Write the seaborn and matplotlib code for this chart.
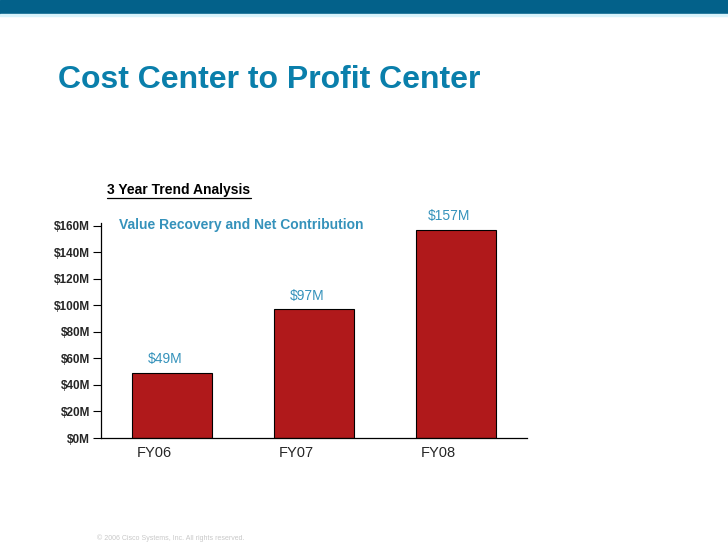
import pandas as pd
import matplotlib
matplotlib.use('Agg')
import matplotlib.pyplot as plt
import matplotlib.transforms as mtransforms
import seaborn as sns

years = ['FY06', 'FY07', 'FY08']
values = [49, 97, 157]
value_labels = ['$49M', '$97M', '$157M']
y_ticks = [0, 20, 40, 60, 80, 100, 120, 140, 160]
y_tick_labels = ['$0M', '$20M', '$40M', '$60M', '$80M', '$100M', '$120M', '$140M', '$160M']

df = pd.DataFrame({'year': years, 'value': values})

sns.set_style('white')
plt.rcParams['font.family'] = ['Liberation Sans', 'DejaVu Sans']

fig = plt.figure(figsize=(7.28, 5.46), dpi=100)
ax = fig.add_axes([0.1387, 0.1978, 0.5852, 0.3938])

sns.barplot(data=df, x='year', y='value', color='#b0191b', saturation=1,
            width=0.56, edgecolor='black', linewidth=0.8, ax=ax)

ax.set_xlim(-0.5, 2.5)
ax.set_ylim(0, 162)
ax.set_yticks(y_ticks)
ax.set_yticklabels(y_tick_labels, fontsize=8.5, fontweight='bold')
ax.set_xlabel('')
ax.set_ylabel('')
ax.tick_params(axis='y', left=True, direction='out', length=6, width=0.8, color='black', pad=2)
ax.tick_params(axis='x', bottom=False, labelsize=10.5, pad=2)

# shift the year labels a bit to the left, as in the slide
offset = mtransforms.ScaledTranslation(-18 / 100, 0, fig.dpi_scale_trans)
for lab in ax.get_xticklabels():
    lab.set_transform(lab.get_transform() + offset)

for s in ['top', 'right']:
    ax.spines[s].set_visible(False)
for s in ['left', 'bottom']:
    ax.spines[s].set_color('black')
    ax.spines[s].set_linewidth(0.9)

for i, (v, lab) in enumerate(zip(values, value_labels)):
    ax.text(i - 0.05, v + 5, lab, ha='center', va='bottom', fontsize=10, color='#3592bb')

# slide decoration
fig.patches.append(plt.Rectangle((0, 1 - 14 / 546), 1, 14 / 546, transform=fig.transFigure,
                                 color='#03618a', zorder=0))
fig.patches.append(plt.Rectangle((0, 1 - 16 / 546), 1, 2 / 546, transform=fig.transFigure,
                                 color='#d8f3fb', zorder=0))

fig.text(58 / 728, 1 - 80 / 546, 'Cost Center to Profit Center', fontsize=23,
         fontweight='bold', color='#0a7fab', va='center', ha='left')
fig.text(107 / 728, 1 - 190 / 546, '3 Year Trend Analysis', fontsize=10,
         fontweight='bold', color='black', va='center', ha='left')
fig.add_artist(plt.Line2D([107 / 728, 251 / 728], [1 - 198 / 546, 1 - 198 / 546],
                          transform=fig.transFigure, color='black', linewidth=0.9))
fig.text(119 / 728, 1 - 225 / 546, 'Value Recovery and Net Contribution', fontsize=10,
         fontweight='bold', color='#3592bb', va='center', ha='left')
fig.text(97 / 728, 1 - 538 / 546, '\u00a9 2006 Cisco Systems, Inc. All rights reserved.',
         fontsize=5, color='#c8c8c8', va='center', ha='left')

fig.savefig('out.png', dpi=100)
